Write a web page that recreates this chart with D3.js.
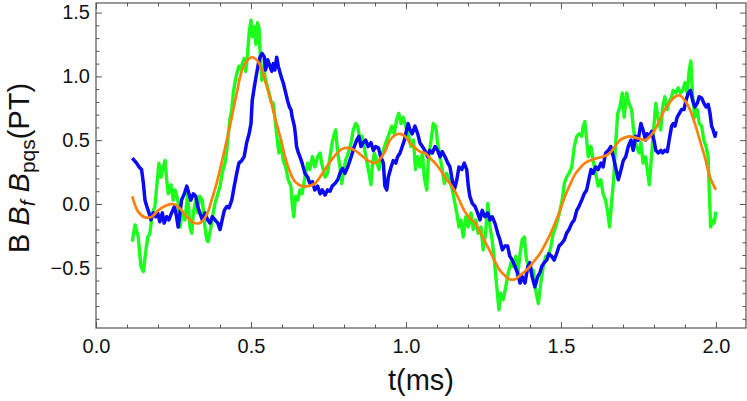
<!DOCTYPE html>
<html>
<head>
<meta charset="utf-8">
<script src="https://cdn.jsdelivr.net/npm/d3@7"></script>
<style>
  body { margin: 0; background: #fff; }
  text { font-family: "Liberation Sans", Arial, sans-serif; }
</style>
</head>
<body>
<div id="chart"></div>
<script>
var svgWidth = 747;
var svgHeight = 401;

var margin = { top: 3, right: 1, bottom: 73, left: 96 };

// B (green), time in ms
var greenT = [0.117,0.126,0.136,0.145,0.153,0.160,0.167,0.174,0.182,0.190,0.196,0.203,0.210,0.217,0.223,0.228,0.233,0.242,0.249,0.255,0.264,0.271,0.278,0.287,0.296,0.303,0.309,0.314,0.322,0.328,0.335,0.343,0.349,0.357,0.362,0.371,0.378,0.384,0.393,0.400,0.407,0.416,0.422,0.427,0.432,0.438,0.443,0.448,0.454,0.461,0.468,0.472,0.478,0.483,0.489,0.494,0.500,0.505,0.511,0.516,0.521,0.526,0.529,0.535,0.540,0.547,0.556,0.565,0.572,0.580,0.586,0.590,0.597,0.604,0.612,0.620,0.629,0.633,0.638,0.644,0.651,0.658,0.665,0.674,0.683,0.690,0.698,0.706,0.715,0.723,0.728,0.739,0.747,0.755,0.762,0.769,0.773,0.780,0.787,0.793,0.798,0.805,0.814,0.823,0.830,0.838,0.844,0.852,0.859,0.865,0.873,0.881,0.887,0.891,0.898,0.905,0.913,0.919,0.927,0.935,0.943,0.954,0.962,0.970,0.977,0.984,0.991,0.999,1.007,1.016,1.024,1.031,1.038,1.045,1.053,1.059,1.067,1.072,1.081,1.088,1.096,1.102,1.110,1.117,1.124,1.131,1.139,1.147,1.156,1.164,1.171,1.177,1.185,1.193,1.201,1.210,1.217,1.225,1.233,1.242,1.249,1.257,1.264,1.271,1.278,1.285,1.293,1.300,1.306,1.314,1.322,1.330,1.339,1.346,1.354,1.360,1.368,1.375,1.382,1.389,1.397,1.405,1.411,1.418,1.427,1.435,1.443,1.451,1.459,1.468,1.475,1.483,1.489,1.497,1.504,1.511,1.518,1.526,1.535,1.543,1.551,1.558,1.567,1.572,1.577,1.583,1.588,1.597,1.604,1.612,1.620,1.629,1.636,1.644,1.651,1.657,1.664,1.670,1.676,1.683,1.690,1.698,1.704,1.712,1.719,1.728,1.733,1.739,1.744,1.752,1.758,1.765,1.773,1.780,1.785,1.793,1.800,1.806,1.814,1.822,1.828,1.835,1.843,1.849,1.857,1.862,1.871,1.878,1.886,1.893,1.900,1.907,1.914,1.919,1.925,1.932,1.940,1.946,1.954,1.961,1.968,1.975,1.978,1.983,1.989,1.994,2.000];
var greenB = [-0.295,-0.165,-0.256,-0.49,-0.53,-0.38,-0.26,-0.23,-0.07,-0.02,0.14,0.32,0.21,0.29,0.34,0.19,0.08,0.15,0.03,0.11,0.03,-0.18,-0.07,-0.125,0.08,-0.18,-0.23,-0.07,0.03,-0.07,0.06,0.03,-0.125,-0.28,-0.295,-0.18,-0.07,0.005,0.08,0.14,0.24,0.32,0.42,0.55,0.66,0.74,0.87,0.95,1.02,1.08,1.05,1.10,1.14,1.04,1.17,1.34,1.44,1.31,1.39,1.25,1.42,1.38,1.21,0.97,1.08,0.97,0.89,0.80,0.79,0.61,0.48,0.40,0.50,0.34,0.29,0.19,0.14,0.005,-0.10,0.06,0.03,0.11,0.08,0.21,0.32,0.27,0.37,0.29,0.37,0.40,0.32,0.21,0.24,0.37,0.48,0.55,0.58,0.40,0.29,0.16,0.24,0.34,0.40,0.48,0.58,0.63,0.61,0.50,0.53,0.45,0.34,0.24,0.15,0.29,0.40,0.34,0.27,0.37,0.42,0.48,0.53,0.61,0.55,0.66,0.71,0.63,0.68,0.61,0.55,0.45,0.50,0.27,0.37,0.29,0.40,0.21,0.11,0.34,0.50,0.63,0.61,0.48,0.37,0.27,0.16,0.24,0.19,0.14,0.03,-0.07,-0.18,-0.125,-0.26,-0.10,-0.18,-0.07,-0.20,-0.125,-0.23,-0.18,-0.36,-0.23,0.005,-0.18,-0.28,-0.44,-0.65,-0.83,-0.70,-0.75,-0.65,-0.54,-0.46,-0.49,-0.41,-0.57,-0.39,-0.28,-0.26,-0.44,-0.49,-0.54,-0.52,-0.67,-0.78,-0.62,-0.49,-0.41,-0.41,-0.33,-0.23,-0.18,-0.125,-0.05,0.03,0.16,0.21,0.24,0.29,0.45,0.53,0.55,0.53,0.61,0.645,0.50,0.37,0.45,0.34,0.24,0.14,0.19,0.08,0.03,-0.07,-0.18,0.03,0.19,0.45,0.71,0.76,0.87,0.68,0.87,0.79,0.74,0.61,0.50,0.45,0.40,0.48,0.32,0.37,0.24,0.15,0.40,0.61,0.79,0.66,0.58,0.76,0.84,0.74,0.80,0.84,0.89,0.87,0.91,0.87,0.89,0.95,0.87,1.05,1.12,0.84,0.68,0.74,0.63,0.61,0.50,0.45,0.37,0.14,-0.18,-0.125,-0.15,-0.06];

// B_f (blue)
var blueT = [0.117,0.124,0.131,0.139,0.147,0.153,0.158,0.164,0.171,0.177,0.185,0.193,0.199,0.206,0.214,0.220,0.228,0.235,0.244,0.253,0.260,0.265,0.271,0.276,0.285,0.293,0.300,0.306,0.314,0.322,0.328,0.335,0.343,0.352,0.360,0.368,0.375,0.384,0.393,0.400,0.407,0.414,0.422,0.429,0.438,0.446,0.454,0.461,0.470,0.478,0.486,0.494,0.500,0.504,0.511,0.518,0.524,0.529,0.536,0.543,0.547,0.554,0.561,0.567,0.572,0.577,0.583,0.588,0.597,0.604,0.612,0.618,0.624,0.629,0.633,0.640,0.644,0.647,0.653,0.658,0.665,0.674,0.683,0.690,0.698,0.706,0.715,0.723,0.730,0.739,0.747,0.755,0.762,0.771,0.780,0.787,0.795,0.803,0.812,0.819,0.827,0.833,0.841,0.848,0.855,0.862,0.870,0.878,0.887,0.895,0.902,0.911,0.919,0.927,0.932,0.938,0.943,0.952,0.959,0.967,0.973,0.981,0.988,0.995,1.002,1.007,1.013,1.020,1.029,1.038,1.045,1.053,1.061,1.070,1.077,1.085,1.094,1.102,1.110,1.117,1.126,1.135,1.142,1.149,1.156,1.164,1.171,1.180,1.188,1.196,1.201,1.206,1.214,1.223,1.231,1.239,1.246,1.255,1.264,1.271,1.278,1.287,1.296,1.303,1.311,1.319,1.328,1.335,1.343,1.352,1.360,1.368,1.375,1.384,1.393,1.400,1.407,1.416,1.425,1.432,1.438,1.446,1.454,1.461,1.470,1.478,1.486,1.494,1.502,1.511,1.518,1.526,1.535,1.543,1.551,1.558,1.567,1.575,1.583,1.590,1.597,1.604,1.612,1.620,1.629,1.636,1.644,1.653,1.661,1.669,1.676,1.685,1.694,1.701,1.709,1.717,1.726,1.733,1.741,1.749,1.758,1.765,1.773,1.778,1.785,1.793,1.800,1.806,1.814,1.822,1.828,1.835,1.843,1.849,1.857,1.862,1.868,1.875,1.882,1.889,1.897,1.903,1.911,1.918,1.925,1.932,1.940,1.946,1.954,1.961,1.968,1.975,1.981,1.986,1.991,1.997,2.000];
var blueB = [0.36,0.34,0.32,0.29,0.27,0.16,0.03,-0.02,-0.07,-0.125,-0.07,-0.10,-0.07,-0.14,-0.07,-0.15,-0.10,-0.125,-0.07,-0.02,-0.10,-0.18,-0.07,0.03,0.08,0.14,0.08,0.03,0.08,0.06,-0.02,-0.07,-0.125,-0.07,-0.125,-0.15,-0.10,-0.125,-0.15,-0.20,-0.125,-0.05,-0.02,-0.03,0.03,0.14,0.24,0.32,0.34,0.37,0.48,0.55,0.63,0.81,0.92,1.02,1.10,1.15,1.18,1.15,1.05,1.13,1.08,1.04,1.10,1.05,1.15,1.08,1.00,0.95,0.87,0.81,0.76,0.74,0.68,0.61,0.53,0.45,0.40,0.37,0.32,0.24,0.21,0.16,0.175,0.11,0.14,0.08,0.11,0.07,0.11,0.10,0.14,0.16,0.19,0.24,0.28,0.24,0.29,0.34,0.40,0.45,0.50,0.53,0.45,0.48,0.50,0.45,0.48,0.42,0.45,0.44,0.37,0.32,0.14,0.11,0.21,0.29,0.34,0.32,0.37,0.40,0.45,0.50,0.58,0.63,0.58,0.55,0.61,0.55,0.48,0.45,0.42,0.37,0.42,0.40,0.45,0.42,0.37,0.41,0.37,0.32,0.29,0.19,0.11,0.19,0.29,0.27,0.32,0.27,0.14,0.06,0.005,-0.02,-0.07,-0.125,-0.05,-0.10,-0.07,-0.125,-0.10,-0.15,-0.23,-0.28,-0.36,-0.33,-0.33,-0.41,-0.44,-0.49,-0.54,-0.62,-0.57,-0.62,-0.49,-0.46,-0.57,-0.65,-0.57,-0.54,-0.49,-0.46,-0.44,-0.39,-0.41,-0.44,-0.39,-0.33,-0.31,-0.28,-0.23,-0.20,-0.15,-0.125,-0.05,-0.02,0.03,0.08,0.11,0.19,0.27,0.24,0.29,0.27,0.32,0.29,0.40,0.42,0.45,0.37,0.29,0.19,0.27,0.34,0.37,0.45,0.50,0.42,0.53,0.50,0.63,0.58,0.50,0.55,0.53,0.57,0.50,0.42,0.40,0.42,0.40,0.42,0.41,0.50,0.61,0.63,0.61,0.68,0.71,0.74,0.74,0.81,0.87,0.89,0.81,0.76,0.79,0.84,0.83,0.79,0.76,0.78,0.71,0.61,0.58,0.53,0.57];

// B_pqs (orange, smooth)
var orangeT = [0.117,0.136,0.158,0.180,0.201,0.223,0.249,0.271,0.293,0.314,0.335,0.357,0.373,0.389,0.405,0.422,0.438,0.454,0.470,0.486,0.502,0.518,0.529,0.545,0.561,0.577,0.594,0.610,0.626,0.642,0.664,0.685,0.706,0.728,0.749,0.771,0.793,0.814,0.835,0.857,0.878,0.900,0.916,0.932,0.948,0.965,0.981,0.997,1.013,1.029,1.045,1.061,1.077,1.094,1.110,1.126,1.142,1.158,1.174,1.190,1.206,1.223,1.239,1.255,1.271,1.287,1.303,1.319,1.335,1.352,1.368,1.384,1.400,1.416,1.432,1.448,1.465,1.481,1.497,1.513,1.529,1.545,1.561,1.577,1.594,1.610,1.626,1.642,1.658,1.674,1.690,1.706,1.723,1.739,1.755,1.771,1.787,1.803,1.819,1.835,1.852,1.868,1.884,1.900,1.916,1.932,1.948,1.965,1.981,2.000];
var orangeB = [0.06,-0.06,-0.105,-0.10,-0.05,-0.015,0.0,-0.035,-0.10,-0.145,-0.15,-0.085,0.03,0.16,0.32,0.50,0.68,0.87,1.04,1.12,1.15,1.13,1.09,0.97,0.84,0.68,0.53,0.37,0.25,0.175,0.14,0.14,0.16,0.23,0.31,0.38,0.43,0.44,0.42,0.38,0.34,0.32,0.35,0.41,0.50,0.54,0.55,0.53,0.48,0.44,0.41,0.40,0.36,0.32,0.27,0.21,0.16,0.10,0.02,-0.06,-0.11,-0.15,-0.22,-0.295,-0.37,-0.45,-0.52,-0.56,-0.59,-0.59,-0.56,-0.53,-0.49,-0.44,-0.39,-0.32,-0.24,-0.15,-0.05,0.06,0.15,0.23,0.28,0.32,0.34,0.355,0.365,0.376,0.40,0.45,0.50,0.52,0.53,0.52,0.51,0.50,0.53,0.58,0.66,0.74,0.80,0.84,0.85,0.81,0.74,0.63,0.50,0.36,0.21,0.11];

var xMajor = [0, 0.5, 1.0, 1.5, 2.0];
var yMajor = [-0.5, 0, 0.5, 1.0, 1.5];

var chartWidth = svgWidth - margin.left - margin.right;
var chartHeight = svgHeight - margin.top - margin.bottom;

var svg = d3.select("#chart")
    .append("svg")
    .attr("width", svgWidth)
    .attr("height", svgHeight);

var chart = svg.append("g")
    .attr("transform", `translate(${margin.left}, ${margin.top})`);

var xScale = d3.scaleLinear().domain([0, 2.097]).range([0, chartWidth]);
var yScale = d3.scaleLinear().domain([-0.972, 1.575]).range([chartHeight, 0]);

var xMinor = d3.range(0, 21).map(i => i / 10).filter(v => xMajor.indexOf(v) < 0);
var yMinor = d3.range(-9, 16).map(i => i / 10).filter(v => yMajor.indexOf(v) < 0);

var frameColor = "#555";

function styleAxis(g) {
    g.select(".domain").remove();
    g.selectAll("line").attr("stroke", frameColor);
    g.selectAll("text").attr("fill", "#111").style("font-size", "20px");
}

/// bottom / top ticks
chart.append("g").attr("transform", `translate(0, ${chartHeight})`)
    .call(d3.axisBottom(xScale).tickValues(xMinor).tickSize(-3.5).tickFormat(""))
    .call(styleAxis);
chart.append("g").attr("transform", `translate(0, ${chartHeight})`)
    .call(d3.axisBottom(xScale).tickValues(xMajor).tickSize(-6).tickPadding(11).tickFormat(d3.format(".1f")))
    .call(styleAxis);
chart.append("g")
    .call(d3.axisTop(xScale).tickValues(xMinor).tickSize(-3.5).tickFormat(""))
    .call(styleAxis);
chart.append("g")
    .call(d3.axisTop(xScale).tickValues(xMajor).tickSize(-6).tickFormat(""))
    .call(styleAxis);

/// left / right ticks
chart.append("g")
    .call(d3.axisLeft(yScale).tickValues(yMinor).tickSize(-3.5).tickFormat(""))
    .call(styleAxis);
chart.append("g")
    .call(d3.axisLeft(yScale).tickValues(yMajor).tickSize(-6).tickPadding(6).tickFormat(d3.format(".1f")))
    .call(styleAxis);
chart.append("g").attr("transform", `translate(${chartWidth}, 0)`)
    .call(d3.axisRight(yScale).tickValues(yMinor).tickSize(-3.5).tickFormat(""))
    .call(styleAxis);
chart.append("g").attr("transform", `translate(${chartWidth}, 0)`)
    .call(d3.axisRight(yScale).tickValues(yMajor).tickSize(-6).tickFormat(""))
    .call(styleAxis);

/// curves
var line = d3.line()
    .x(d => xScale(d[0]))
    .y(d => yScale(d[1]));

var series = [
    { t: greenT, b: greenB, color: "#1cff1c", width: 3.4, curve: d3.curveLinear },
    { t: blueT, b: blueB, color: "#0a0af5", width: 3.5, curve: d3.curveLinear },
    { t: orangeT, b: orangeB, color: "#ff7f0a", width: 2.7, curve: d3.curveCatmullRom }
];

series.forEach(s => {
    chart.append("path")
        .datum(d3.zip(s.t, s.b))
        .attr("fill", "none")
        .attr("stroke", s.color)
        .attr("stroke-width", s.width)
        .attr("stroke-linejoin", "round")
        .attr("d", line.curve(s.curve));
});

/// frame
chart.append("rect")
    .attr("width", chartWidth)
    .attr("height", chartHeight)
    .attr("fill", "none")
    .attr("stroke", frameColor)
    .attr("stroke-width", 1.2);

/// axis labels
svg.append("text")
    .attr("x", 421)
    .attr("y", 390)
    .attr("text-anchor", "middle")
    .attr("fill", "#111")
    .style("font-size", "29px")
    .text("t(ms)");

var yLabel = svg.append("text")
    .attr("transform", "translate(29, 168) rotate(-90)")
    .attr("text-anchor", "middle")
    .attr("fill", "#111")
    .style("font-size", "29px");
yLabel.append("tspan").text("B ");
yLabel.append("tspan").style("font-style", "italic").text("B");
yLabel.append("tspan").style("font-style", "italic").style("font-size", "21px").attr("dy", 6).text("f");
yLabel.append("tspan").attr("dy", -6).text(" ");
yLabel.append("tspan").style("font-style", "italic").text("B");
yLabel.append("tspan").style("font-size", "21px").attr("dy", 6).text("pqs");
yLabel.append("tspan").attr("dy", -6).text("(PT)");
</script>
</body>
</html>
